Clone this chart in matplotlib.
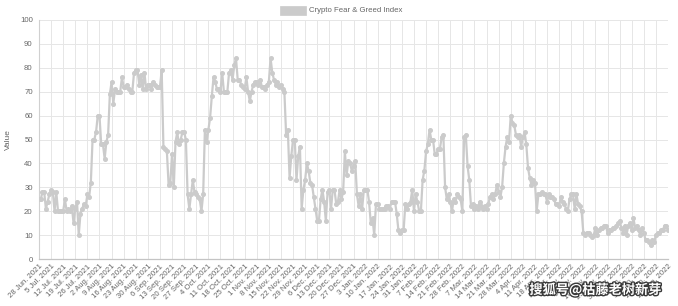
import matplotlib
matplotlib.use("Agg")
import matplotlib.pyplot as plt
import matplotlib.patheffects as pe
import pandas as pd

# daily Crypto Fear & Greed Index, 28 Jun 2021 - 27 Jun 2022
start_date = "2021-06-28"
values = [
    # 28 Jun - 30 Sep 2021
    25, 25, 28, 28, 21, 24, 27, 29, 28, 20, 28, 20, 20, 20, 20, 25, 20, 21, 20, 22,
    15, 21, 24, 10, 19, 21, 23, 22, 27, 26, 32, 50, 50, 53, 60, 60, 48, 48, 42, 49,
    52, 69, 74, 65, 71, 70, 70, 70, 76, 72, 72, 73, 71, 70, 70, 78, 79, 79, 73, 77,
    71, 78, 71, 73, 73, 71, 74, 73, 72, 72, 72, 79, 47, 46, 45, 31, 32, 44, 30, 49,
    53, 48, 50, 53, 53, 50, 27, 21, 27, 33, 28, 27, 26, 25, 20,
    # Oct - Dec 2021
    27, 54, 49, 54, 59, 68, 76, 74, 71, 71, 70, 78, 70, 70, 70, 78, 79, 75, 81, 84,
    75, 75, 73, 72, 71, 76, 70, 66, 70, 73, 74, 74, 73, 75, 72, 72, 71, 73, 74, 84,
    78, 75, 73, 74, 72, 73, 71, 70, 52, 54, 34, 43, 50, 50, 33, 43, 47, 21, 29, 33,
    40, 37, 32, 31, 26, 21, 16, 16, 25, 29, 24, 16, 28, 29, 21, 29, 29, 23, 24, 29,
    25, 28, 45, 35, 41, 40, 37, 39,
    # Jan - Mar 2022
    41, 27, 22, 27, 21, 29, 29, 29, 24, 15, 17, 10, 23, 23, 21, 21, 21, 21, 22, 22,
    21, 24, 24, 24, 19, 12, 11, 12, 12, 23, 21, 23, 24, 29, 20, 27, 24, 20, 20, 33,
    37, 45, 48, 54, 50, 50, 44, 44, 46, 46, 51, 52, 30, 25, 27, 24, 20, 25, 24, 27,
    26, 25, 20, 51, 52, 39, 33, 22, 23, 21, 22, 21, 24, 22, 21, 22, 21, 23, 26, 27,
    25, 27, 31, 28, 26, 30, 40, 47, 51, 49, 60, 57, 56,
    # Apr - Jun 2022
    52, 51, 52, 47, 51, 53, 48, 38, 34, 31, 33, 32, 20, 27, 27, 28, 27, 27, 24, 27,
    26, 26, 25, 23, 23, 22, 26, 24, 23, 21, 20, 25, 27, 27, 21, 27, 23, 22, 20, 11,
    10, 11, 11, 10, 9, 10, 13, 10, 12, 13, 13, 14, 14, 11, 12, 12, 13, 13, 14, 15,
    16, 13, 11, 14, 10, 14, 15, 12, 17, 13, 14, 12, 10, 13, 11, 8, 8, 7, 6, 8,
    7, 10, 11, 11, 12, 12, 14, 14, 12,
]
series_name = "Crypto Fear & Greed Index"
y_ticks = list(range(0, 101, 10))

dates = pd.date_range(start_date, periods=len(values), freq="D")
tick_pos = list(range(0, len(values), 7))
tick_labels = [f"{dates[i].day} {dates[i].strftime('%b')}. {dates[i].year}" for i in tick_pos]

plt.rcParams["font.family"] = ["Liberation Sans", "DejaVu Sans"]

line_col = "#cbcbcb"
grid_col = "#e6e6e6"
text_col = "#666666"

fig = plt.figure(figsize=(6.78, 3.06), dpi=100)
ax = fig.add_axes([39 / 678, 1 - 259 / 306, 629 / 678, 239 / 306])

ax.plot(range(len(values)), values, color=line_col, lw=1.6, marker="o",
        markersize=2.6, markerfacecolor=line_col, markeredgecolor=line_col,
        label=series_name, zorder=3)

ax.set_xlim(0, len(values) - 1)
ax.set_ylim(0, 100)
ax.set_yticks(y_ticks)
ax.set_xticks(tick_pos)
ax.set_xticklabels(tick_labels, rotation=45, ha="right", rotation_mode="anchor")
ax.tick_params(axis="both", length=0, colors=text_col, labelsize=5.6)
ax.tick_params(axis="y", pad=4.5)
ax.tick_params(axis="x", pad=3)
ax.grid(True, color=grid_col, lw=0.7)
ax.set_axisbelow(True)
for side in ["top", "right"]:
    ax.spines[side].set_visible(False)
ax.spines["left"].set_color("#d0d0d0")
ax.spines["bottom"].set_color("#c4c4c4")
ax.spines["left"].set_linewidth(0.8)
ax.spines["bottom"].set_linewidth(0.9)
ax.set_ylabel("Value", color=text_col, fontsize=6, labelpad=6)

# legend like chart.js: box + label above plot
fig.patches.append(plt.Rectangle((280 / 678, 1 - 15 / 306), 26 / 678, 9 / 306,
                                 transform=fig.transFigure, facecolor=line_col,
                                 edgecolor=line_col, lw=0.5))
fig.text(309 / 678, 1 - 10.5 / 306, series_name, color=text_col, fontsize=5.6,
         va="center", ha="left")

# watermark
fig.text(662 / 678, 1 - 290 / 306, "搜狐号@枯藤老树新芽", color="white", fontsize=9.5,
         ha="right", va="center", family=["Noto Sans CJK SC", "DejaVu Sans"],
         weight="bold",
         path_effects=[pe.withStroke(linewidth=2, foreground="#3a3a3a")])

fig.savefig("out.png", dpi=100)
